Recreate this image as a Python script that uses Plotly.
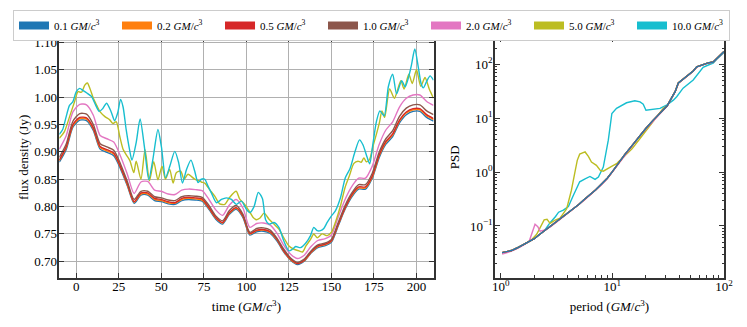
import plotly.graph_objects as go

labels = ["0.1", "0.2", "0.5", "1.0", "2.0", "5.0", "10.0"]
colors = ["#1f77b4", "#ff7f0e", "#d62728", "#8c564b", "#e377c2", "#bcbd22", "#17becf"]

# ---------------- light curves (left panel) ----------------
time_smooth = [-10, -6, -2, 2, 6, 10, 14, 18, 22, 26, 30, 34, 38, 42, 46, 50, 54, 58,
               62, 66, 70, 74, 78, 82, 86, 90, 94, 98, 102, 106, 110, 114, 118, 122,
               126, 130, 134, 138, 142, 146, 150, 154, 158, 162, 166, 170, 174, 178,
               182, 186, 190, 194, 198, 202, 206, 210]

flux_01 = [0.881, 0.904, 0.945, 0.958, 0.957, 0.939, 0.905, 0.899, 0.893, 0.869, 0.838, 0.806,
           0.821, 0.821, 0.811, 0.809, 0.805, 0.804, 0.811, 0.813, 0.812, 0.810, 0.795, 0.777,
           0.768, 0.786, 0.795, 0.780, 0.748, 0.754, 0.755, 0.751, 0.737, 0.717, 0.702, 0.694,
           0.700, 0.715, 0.725, 0.728, 0.735, 0.765, 0.795, 0.818, 0.832, 0.832, 0.852, 0.889,
           0.914, 0.928, 0.953, 0.968, 0.974, 0.974, 0.963, 0.956]
flux_02 = [0.884, 0.907, 0.948, 0.961, 0.960, 0.942, 0.908, 0.902, 0.896, 0.872, 0.840, 0.808,
           0.823, 0.823, 0.813, 0.811, 0.807, 0.806, 0.813, 0.815, 0.814, 0.812, 0.797, 0.779,
           0.770, 0.788, 0.797, 0.782, 0.750, 0.756, 0.757, 0.753, 0.739, 0.718, 0.703, 0.696,
           0.701, 0.716, 0.727, 0.730, 0.737, 0.767, 0.797, 0.820, 0.834, 0.834, 0.854, 0.892,
           0.917, 0.931, 0.956, 0.971, 0.977, 0.977, 0.966, 0.959]
flux_05 = [0.885, 0.909, 0.950, 0.963, 0.962, 0.944, 0.910, 0.904, 0.898, 0.873, 0.842, 0.809,
           0.825, 0.825, 0.815, 0.813, 0.809, 0.807, 0.815, 0.817, 0.816, 0.814, 0.798, 0.780,
           0.771, 0.789, 0.798, 0.783, 0.751, 0.757, 0.758, 0.754, 0.740, 0.719, 0.704, 0.696,
           0.702, 0.717, 0.728, 0.731, 0.738, 0.768, 0.798, 0.822, 0.836, 0.836, 0.856, 0.894,
           0.919, 0.933, 0.958, 0.973, 0.979, 0.979, 0.968, 0.961]
flux_10 = [0.890, 0.914, 0.956, 0.970, 0.969, 0.950, 0.915, 0.909, 0.903, 0.878, 0.846, 0.813,
           0.828, 0.828, 0.818, 0.816, 0.812, 0.811, 0.818, 0.820, 0.819, 0.817, 0.802, 0.783,
           0.774, 0.793, 0.802, 0.786, 0.753, 0.760, 0.761, 0.757, 0.742, 0.722, 0.706, 0.698,
           0.704, 0.719, 0.730, 0.733, 0.740, 0.771, 0.802, 0.825, 0.840, 0.840, 0.861, 0.899,
           0.924, 0.939, 0.965, 0.980, 0.986, 0.986, 0.975, 0.968]
flux_20 = [0.905, 0.929, 0.973, 0.987, 0.986, 0.967, 0.930, 0.924, 0.918, 0.892, 0.859, 0.824,
           0.845, 0.846, 0.830, 0.828, 0.823, 0.822, 0.830, 0.832, 0.831, 0.829, 0.813, 0.794,
           0.784, 0.803, 0.813, 0.797, 0.762, 0.769, 0.770, 0.766, 0.751, 0.729, 0.713, 0.705,
           0.711, 0.727, 0.738, 0.741, 0.748, 0.781, 0.813, 0.837, 0.852, 0.852, 0.874, 0.913,
           0.940, 0.955, 0.982, 0.998, 1.004, 1.004, 0.992, 0.985]

time_50 = [-10, -7, -4, -1, 1, 3, 5, 6.5, 8, 10, 12, 14, 17, 19.5, 21.5, 23.5, 25.5, 27.5,
           29.5, 31.5, 33.8, 35.2, 38, 40.4, 43, 45.5, 48, 50.4, 52.4, 54.9, 56.9, 58.8,
           61.4, 63.3, 65.7, 69.6, 73.5, 75.5, 78.4, 81.4, 84.3, 87.3, 90.2, 94, 96, 99,
           102, 104, 106, 108, 110.4, 113.3, 116.2, 119.1, 122, 125, 128, 131, 133, 135,
           137.7, 139.6, 141.6, 144.5, 147.5, 150, 152.3, 155.3, 158, 160.6, 163.2, 165.6,
           167.5, 169.1, 170.5, 172.4, 174.4, 176.4, 178.3, 179.7, 181.3, 184.2, 187,
           190.8, 192.7, 195.5, 197.5, 200, 202.5, 205, 207.5, 210]
flux_50 = [0.925, 0.937, 0.964, 0.992, 1.010, 1.009, 1.022, 1.026, 1.016, 0.998, 0.985, 0.973,
           0.964, 0.959, 0.952, 0.955, 0.929, 0.905, 0.894, 0.884, 0.862, 0.883, 0.850, 0.904,
           0.847, 0.882, 0.849, 0.874, 0.850, 0.868, 0.843, 0.862, 0.865, 0.850, 0.859, 0.850,
           0.845, 0.843, 0.831, 0.819, 0.805, 0.804, 0.817, 0.828, 0.814, 0.804, 0.790, 0.780,
           0.776, 0.779, 0.788, 0.777, 0.768, 0.759, 0.743, 0.728, 0.722, 0.719, 0.717, 0.728,
           0.740, 0.750, 0.743, 0.750, 0.747, 0.753, 0.771, 0.801, 0.835, 0.857, 0.879, 0.883,
           0.881, 0.889, 0.882, 0.886, 0.910, 0.932, 0.955, 0.975, 0.963, 1.015, 0.998,
           1.030, 1.015, 1.042, 1.025, 1.050, 1.020, 1.036, 1.015, 0.998]

time_100 = [-10, -8, -6, -4, -2, 0, 2, 4, 6, 9, 11, 13.5, 15.5, 17.8, 20.5, 22.5, 24.4, 26,
            27.5, 29.3, 31.3, 32.7, 35.2, 37.5, 40, 42.6, 45, 48, 50, 52.5, 55, 57.9, 60.2,
            62.4, 64.8, 67.4, 69.6, 71.6, 73.5, 75.5, 77.5, 79.4, 82.4, 85.3, 88.2, 91.2,
            94.1, 97.1, 100, 102, 104.5, 107, 109.4, 111.3, 113.3, 116.2, 119.1, 122, 125,
            127, 129, 131.8, 134.8, 137.7, 139.6, 141.6, 143.6, 145.5, 147.5, 150, 152.3,
            155.3, 158.2, 161, 163.6, 166.5, 168.5, 171, 172.5, 174.4, 176.4, 178.5, 181,
            183.5, 186, 188.3, 191.3, 193.3, 195.2, 197, 199, 201, 202.7, 204, 206, 208, 210]
flux_100 = [0.932, 0.941, 0.964, 0.985, 0.992, 1.010, 1.016, 1.012, 1.008, 1.001, 0.988, 0.974,
            0.979, 0.989, 0.973, 0.957, 0.972, 0.996, 0.982, 0.941, 0.904, 0.885, 0.917, 0.960,
            0.910, 0.849, 0.886, 0.941, 0.910, 0.853, 0.874, 0.901, 0.880, 0.843, 0.868, 0.885,
            0.865, 0.844, 0.850, 0.850, 0.837, 0.825, 0.807, 0.813, 0.816, 0.813, 0.804, 0.810,
            0.795, 0.789, 0.800, 0.826, 0.815, 0.776, 0.768, 0.771, 0.762, 0.737, 0.719, 0.722,
            0.727, 0.725, 0.733, 0.747, 0.762, 0.756, 0.756, 0.760, 0.771, 0.783, 0.792, 0.816,
            0.853, 0.870, 0.898, 0.922, 0.913, 0.890, 0.878, 0.915, 0.955, 0.975, 0.966, 1.020,
            1.042, 1.006, 1.030, 1.019, 1.035, 1.058, 1.088, 1.056, 1.025, 1.017, 1.029, 1.039,
            1.031]

# ---------------- power spectra (right panel) ----------------
period = [1.03, 1.1, 1.25, 1.4, 1.6, 1.8, 2.0, 2.2, 2.5, 2.8, 3.2, 3.6, 4.0, 4.5, 5.0, 5.6,
          6.3, 7.1, 8.0, 9.0, 10, 11.5, 13, 15, 17.5, 20, 23, 27, 31, 34, 36.5, 39, 46, 53,
          57, 65, 72, 80, 86, 93, 100]
psd_01 = [0.032, 0.033, 0.035, 0.039, 0.045, 0.051, 0.058, 0.068, 0.083, 0.099, 0.122, 0.148,
          0.175, 0.207, 0.25, 0.31, 0.38, 0.47, 0.60, 0.77, 1.02, 1.55, 2.15, 3.1, 4.7, 6.5,
          9.0, 12.5, 17, 24, 31, 45, 59, 75, 90, 100, 106, 110, 128, 148, 172]
psd_02 = [0.032, 0.033, 0.035, 0.039, 0.045, 0.051, 0.058, 0.068, 0.083, 0.099, 0.122, 0.148,
          0.175, 0.207, 0.25, 0.31, 0.38, 0.47, 0.60, 0.77, 1.02, 1.55, 2.15, 3.1, 4.7, 6.5,
          9.0, 12.5, 17, 24, 31, 45, 59, 75, 90, 100, 106, 110, 128, 148, 172]
psd_05 = [0.032, 0.033, 0.035, 0.039, 0.045, 0.051, 0.058, 0.068, 0.083, 0.099, 0.122, 0.148,
          0.175, 0.207, 0.25, 0.31, 0.38, 0.47, 0.60, 0.77, 1.02, 1.55, 2.15, 3.1, 4.7, 6.5,
          9.0, 12.5, 17, 24, 31, 45, 59, 75, 90, 100, 106, 110, 128, 148, 172]
psd_10 = [0.032, 0.033, 0.035, 0.039, 0.045, 0.051, 0.058, 0.068, 0.083, 0.099, 0.122, 0.148,
          0.175, 0.207, 0.25, 0.31, 0.38, 0.47, 0.60, 0.77, 1.02, 1.55, 2.15, 3.1, 4.7, 6.5,
          9.0, 12.5, 17, 24, 31, 45, 59, 75, 90, 100, 106, 110, 128, 148, 172]

period_20 = [1.03, 1.1, 1.25, 1.4, 1.6, 1.8, 1.9, 2.03, 2.15, 2.25, 2.5, 2.8, 3.2, 3.6, 4.0,
             4.5, 5.0, 5.6, 6.3, 7.1, 8.0, 9.0, 10, 11.5, 13, 15, 17.5, 20, 23, 27, 31, 34,
             36.5, 39, 46, 53, 57, 65, 72, 80, 86, 93, 100]
psd_20 = [0.030, 0.031, 0.034, 0.038, 0.044, 0.052, 0.075, 0.108, 0.097, 0.080, 0.084, 0.097,
          0.120, 0.145, 0.172, 0.205, 0.245, 0.30, 0.37, 0.46, 0.58, 0.75, 1.0, 1.5, 2.1, 3.0,
          4.6, 6.3, 8.8, 12.3, 16.8, 23.5, 30.5, 44.5, 58, 74, 89, 99, 105, 109, 127, 147, 170]

period_50 = [1.03, 1.25, 1.6, 1.9, 2.1, 2.3, 2.45, 2.6, 2.77, 3.07, 3.4, 3.9, 4.3, 4.6, 4.85,
             5.1, 5.7, 6.1, 6.5, 7.2, 7.8, 8.3, 8.9, 9.85, 11, 13.4, 15, 17.7, 20, 23.3, 28.6,
             31, 34, 36.5, 39, 46, 53, 57, 65, 72, 80, 86, 93, 100]
psd_50 = [0.032, 0.035, 0.045, 0.056, 0.070, 0.100, 0.130, 0.133, 0.112, 0.128, 0.140, 0.21,
          0.46, 0.95, 1.65, 2.15, 2.36, 1.96, 1.53, 1.33, 1.07, 1.04, 1.15, 1.28, 1.45, 2.1,
          2.7, 4.2, 5.8, 8.5, 15.2, 17, 24, 31, 45, 59, 75, 90, 100, 106, 110, 128, 148, 172]

period_100 = [1.03, 1.25, 1.6, 2.0, 2.5, 2.77, 3.1, 3.3, 3.64, 4.04, 4.48, 5.1, 5.7, 6.3,
              7.0, 7.5, 8.3, 9.2, 9.9, 10.9, 13.4, 15.9, 17.7, 18.9, 20, 23.2, 26.7, 30.6,
              35.2, 37.7, 43, 53, 65, 75, 80, 88, 100]
psd_100 = [0.032, 0.035, 0.045, 0.058, 0.085, 0.115, 0.150, 0.180, 0.197, 0.23, 0.37, 0.66,
           0.75, 0.83, 0.73, 0.81, 1.24, 3.9, 12.2, 15.2, 19.3, 21, 20, 18.2, 14, 14.5, 15.2,
           17.5, 21.6, 25, 36, 51, 88, 100, 105, 130, 165]

flux_times = [time_smooth, time_smooth, time_smooth, time_smooth, time_smooth, time_50, time_100]
flux_values = [flux_01, flux_02, flux_05, flux_10, flux_20, flux_50, flux_100]
psd_periods = [period, period, period, period, period_20, period_50, period_100]
psd_values = [psd_01, psd_02, psd_05, psd_10, psd_20, psd_50, psd_100]

FONT = "Liberation Serif"
SPINE = "#333333"
unit = " <i>GM</i>/<i>c</i><sup>3</sup>"

fig = go.Figure()

for i in range(7):
    fig.add_trace(go.Scatter(
        x=flux_times[i], y=flux_values[i], mode="lines",
        line=dict(color=colors[i], width=1.4, shape="spline", smoothing=0.7),
        showlegend=False, hoverinfo="skip", xaxis="x", yaxis="y"))

for i in reversed(range(7)):
    fig.add_trace(go.Scatter(
        x=psd_periods[i], y=psd_values[i], mode="lines",
        line=dict(color=colors[i], width=1.4),
        showlegend=False, hoverinfo="skip", xaxis="x2", yaxis="y2"))

for i in range(7):
    fig.add_trace(go.Scatter(
        x=[None], y=[None], mode="lines", name=labels[i] + unit,
        line=dict(color=colors[i], width=8), xaxis="x", yaxis="y",
        legendwidth=(52 if i == 6 else 58)))

common = dict(showline=True, linecolor=SPINE, linewidth=1.5, mirror="ticks",
              ticks="inside", ticklen=5, tickwidth=1, tickcolor=SPINE, zeroline=False,
              automargin=False,
              tickfont=dict(family=FONT, size=13, color="black"))

minor_x = [m * 10 ** k for k in range(0, 2) for m in range(2, 10)]
minor_y = [m * 10.0 ** k for k in range(-2, 3) for m in range(2, 10)]

fig.update_layout(
    width=739, height=319, autosize=False,
    margin=dict(l=0, r=0, t=0, b=0, autoexpand=False),
    paper_bgcolor="white", plot_bgcolor="white",
    font=dict(family=FONT, size=13, color="black"),
    xaxis=dict(domain=[0.06942, 0.57578], range=[-10, 210], tick0=0, dtick=25,
               showgrid=True, gridcolor="#b0b0b0", gridwidth=1, anchor="y",
               ticklabelstandoff=-4,
               title=dict(text="time (<i>GM</i>/<i>c</i><sup>3</sup>)", standoff=9,
                          font=dict(family=FONT, size=13)), **common),
    yaxis=dict(domain=[0.15455, 0.90909], range=[0.67, 1.11], tick0=0.7, dtick=0.05,
               tickformat=".2f", showgrid=True, gridcolor="#b0b0b0", gridwidth=1,
               anchor="x", ticklabelstandoff=-2,
               title=dict(text="flux density (Jy)", standoff=3,
                          font=dict(family=FONT, size=13)), **common),
    xaxis2=dict(domain=[0.65900, 0.96888], type="log", range=[-0.051, 2.0],
                tickvals=[1, 10, 100],
                ticktext=["10<sup>0</sup>", "10<sup>1</sup>", "10<sup>2</sup>"],
                minor=dict(ticks="inside", ticklen=2.5, tickcolor=SPINE, tickvals=minor_x,
                           showgrid=False),
                showgrid=False, anchor="y2", ticklabelstandoff=-4,
                title=dict(text="period (<i>GM</i>/<i>c</i><sup>3</sup>)", standoff=9,
                           font=dict(family=FONT, size=13)), **common),
    yaxis2=dict(domain=[0.15455, 0.90909], type="log", range=[-1.96, 2.506],
                tickvals=[0.1, 1, 10, 100],
                ticktext=["10<sup>\u22121</sup>", "10<sup>0</sup>", "10<sup>1</sup>",
                          "10<sup>2</sup>"],
                minor=dict(ticks="inside", ticklen=2.5, tickcolor=SPINE, tickvals=minor_y,
                           showgrid=False),
                showgrid=False, anchor="x2", ticklabelstandoff=-2,
                title=dict(text="PSD", standoff=7, font=dict(family=FONT, size=13)),
                **common),
    legend=dict(orientation="h", xref="container", yref="container",
                x=0.0068, y=0.9937, xanchor="left", yanchor="top",
                bgcolor="white", bordercolor="#cccccc", borderwidth=1,
                font=dict(family=FONT, size=11, color="black"),
                entrywidth=58, entrywidthmode="pixels", itemwidth=30, tracegroupgap=0),
)

fig.write_html("out.html")
